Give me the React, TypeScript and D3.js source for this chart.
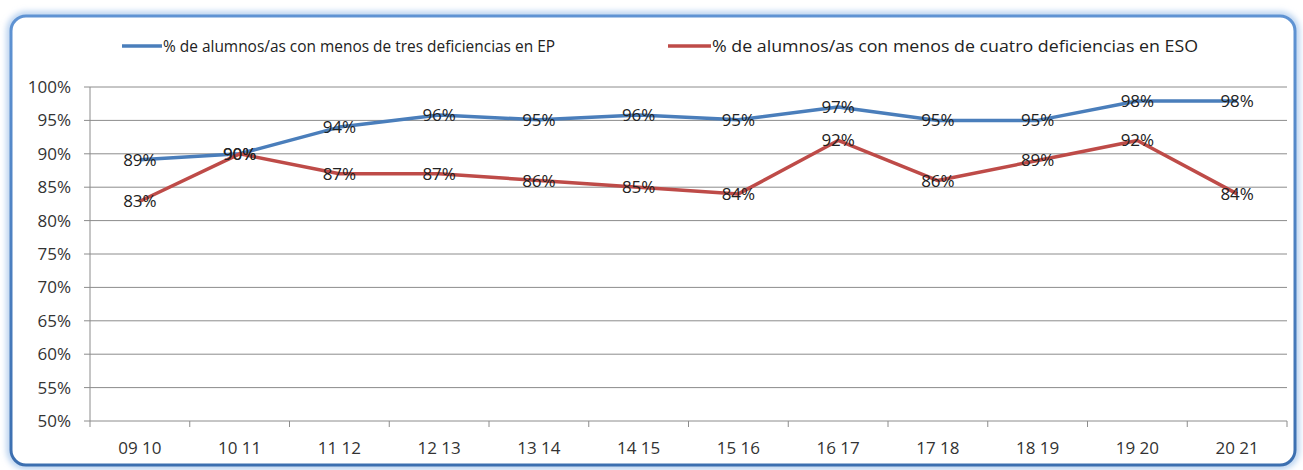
import React from "react";
import * as d3 from "d3";

const categories = ["09 10", "10 11", "11 12", "12 13", "13 14", "14 15", "15 16", "16 17", "17 18", "18 19", "19 20", "20 21"];
const epValues = [89.1, 90, 94, 95.8, 95.1, 95.8, 95.1, 97, 95, 95, 97.9, 97.9];
const esoValues = [82.9, 90, 87, 87, 86, 85, 84, 92, 86, 89, 92, 84];
const yTicks = [50, 55, 60, 65, 70, 75, 80, 85, 90, 95, 100];
const seriesNames = [
  "% de alumnos/as con menos de tres deficiencias en EP",
  "% de alumnos/as con menos de cuatro deficiencias en ESO",
];

const W = 1303;
const H = 470;
const plot = { left: 90, right: 1287, top: 87, bottom: 421 };
const FONT = "'Open Sans', 'Noto Sans', sans-serif";

export default function App() {
  const x = d3.scaleBand<string>().domain(categories).range([plot.left, plot.right]).padding(0);
  const y = d3.scaleLinear().domain([50, 100]).range([plot.bottom, plot.top]);
  const cx = (c: string) => (x(c) as number) + x.bandwidth() / 2;
  const line = d3
    .line<number>()
    .x((_, i) => cx(categories[i]))
    .y((d) => y(d));
  const fmt = (v: number) => d3.format(".0%")(v / 100);

  const series = [
    { name: seriesNames[0], values: epValues, color: "#4A7EBB" },
    { name: seriesNames[1], values: esoValues, color: "#BE4B48" },
  ];
  const legendPos = [
    { x1: 122, x2: 162, tl: 392 },
    { x1: 668, x2: 711, tl: 486 },
  ];
  const boundaries = d3.range(categories.length + 1).map((i) => plot.left + i * x.bandwidth());

  return (
    <svg width={W} height={H} style={{ position: "absolute", left: 0, top: 0, background: "#fff" }}>
      <defs>
        <filter id="glow" x="-5%" y="-10%" width="110%" height="120%">
          <feGaussianBlur stdDeviation="3" />
        </filter>
        <linearGradient id="frameGrad" x1="0" y1="0" x2="0" y2="1">
          <stop offset="0" stopColor="#5f93d3" />
          <stop offset="1" stopColor="#3c6fb0" />
        </linearGradient>
      </defs>
      <rect x={10} y={15} width={1286} height={451} rx={16} fill="none" stroke="#a9c8ec" strokeWidth={6} filter="url(#glow)" />
      <rect x={11} y={16} width={1284} height={449} rx={15} fill="#fff" stroke="url(#frameGrad)" strokeWidth={3} />

      {/* legend */}
      {series.map((s, i) => (
        <g key={s.name}>
          <line x1={legendPos[i].x1} x2={legendPos[i].x2} y1={46} y2={46} stroke={s.color} strokeWidth={3.5} />
          <text
            x={legendPos[i].x2 + 1}
            y={52}
            fontFamily={FONT}
            fontSize={15.5}
            fill="#222"
            textLength={legendPos[i].tl}
            lengthAdjust="spacingAndGlyphs"
          >
            {s.name}
          </text>
        </g>
      ))}

      {/* gridlines */}
      {yTicks.map((t) => (
        <line key={t} x1={plot.left - 6} x2={plot.right} y1={y(t)} y2={y(t)} stroke="#8c8c8c" strokeWidth={1} />
      ))}
      {/* y axis */}
      <line x1={plot.left} x2={plot.left} y1={plot.top} y2={plot.bottom} stroke="#8c8c8c" strokeWidth={1} />
      {yTicks.map((t) => (
        <text key={"l" + t} x={71} y={y(t) + 6} textAnchor="end" fontFamily={FONT} fontSize={17} fill="#333">
          {fmt(t)}
        </text>
      ))}
      {/* x ticks */}
      {boundaries.map((b, i) => (
        <line key={"b" + i} x1={b} x2={b} y1={plot.bottom} y2={plot.bottom + 6} stroke="#8c8c8c" strokeWidth={1} />
      ))}
      {categories.map((c) => (
        <text key={c} x={cx(c)} y={454} textAnchor="middle" fontFamily={FONT} fontSize={17} fill="#333">
          {c}
        </text>
      ))}

      {/* lines */}
      {series.map((s) => (
        <path key={"p" + s.name} d={line(s.values) || ""} fill="none" stroke={s.color} strokeWidth={3.5} strokeLinejoin="round" />
      ))}
      {/* data labels */}
      {series.map((s) =>
        s.values.map((v, i) => (
          <text
            key={s.name + i}
            x={cx(categories[i])}
            y={y(v) + 6}
            textAnchor="middle"
            fontFamily={FONT}
            fontSize={17}
            fill="#222"
          >
            {fmt(Math.round(v))}
          </text>
        ))
      )}
    </svg>
  );
}
